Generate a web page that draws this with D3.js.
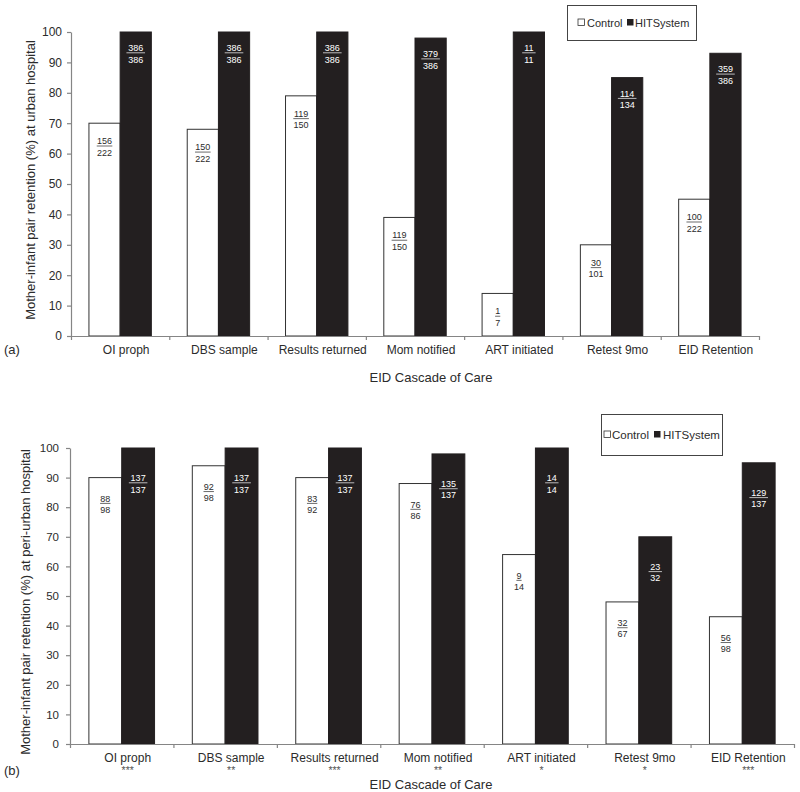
<!DOCTYPE html>
<html><head><meta charset="utf-8">
<script src="https://cdn.jsdelivr.net/npm/d3@7"></script>
<style>
body{margin:0;background:#fff}
svg{display:block}
text{font-family:"Liberation Sans",Arial,Helvetica,sans-serif}
</style>
</head><body>
<svg id="chart" width="800" height="792"></svg>
<script>
// ---------- data ----------
const categories = ["OI proph","DBS sample","Results returned","Mom notified","ART initiated","Retest 9mo","EID Retention"];
const seriesNames = ["Control","HITSystem"];
const yTicks = [0,10,20,30,40,50,60,70,80,90,100];

const urbanControl = [70,68,79,39,14,30,45];
const urbanHIT     = [100,100,100,98,100,85,93];
const urbanControlNum = [156,150,119,119,1,30,100];
const urbanControlDen = [222,222,150,150,7,101,222];
const urbanHITNum  = [386,386,386,379,11,114,359];
const urbanHITDen  = [386,386,386,386,11,134,386];

const periControl  = [90,94,90,88,64,48,43];
const periHIT      = [100,100,100,98,100,70,95];
const periControlNum = [88,92,83,76,9,32,56];
const periControlDen = [98,98,92,86,14,67,98];
const periHITNum   = [137,137,137,135,14,23,129];
const periHITDen   = [137,137,137,137,14,32,137];
const significance = ["***","**","***","**","*","*","***"];

// ---------- drawing ----------
const svg = d3.select("#chart");
const AXIS = "#858585", DARK = "#231f20", TXT = "#2b2b2b";

const panels = [
  { tag:"(a)", tagY:354, xr:[71,759], yr:[336,32], tickPad:5, tickFont:12,
    ytitle:"Mother-infant pair retention (%) at urban hospital", ytX:30, ytY:180,
    xtitleY:382, control:urbanControl, hit:urbanHIT,
    cN:urbanControlNum, cD:urbanControlDen, hN:urbanHITNum, hD:urbanHITDen,
    cOff:21, hOff:19, stars:null,
    legend:{x:567,y:5,w:129,h:35,font:11,sq1:578,t1:587,sq2:627,t2:635} },
  { tag:"(b)", tagY:775, xr:[70,794], yr:[744,448], tickPad:7, tickFont:11.5,
    ytitle:"Mother-infant pair retention (%) at peri-urban hospital", ytX:25, ytY:602,
    xtitleY:789, control:periControl, hit:periHIT,
    cN:periControlNum, cD:periControlDen, hN:periHITNum, hD:periHITDen,
    cOff:24, hOff:33, stars:significance,
    legend:{x:601,y:414,w:121,h:41,font:11.5,sq1:604,t1:612,sq2:654,t2:663} }
];

panels.forEach(p => {
  const g = svg.append("g");
  const x = d3.scaleBand().domain(categories).range(p.xr).padding(0);
  const xi = d3.scaleBand().domain(seriesNames).range([0, x.bandwidth()]).paddingInner(0).paddingOuter(0.575);
  const y = d3.scaleLinear().domain([0,100]).range(p.yr);
  const xb = d3.scaleLinear().domain([0, categories.length]).range(p.xr);

  const rows = categories.map((c,i) => ({c, i, vals:[
    {s:"Control", v:p.control[i], n:p.cN[i], d:p.cD[i]},
    {s:"HITSystem", v:p.hit[i], n:p.hN[i], d:p.hD[i]}]}));

  const grp = g.selectAll("g.cat").data(rows).join("g")
    .attr("transform", d => `translate(${x(d.c)},0)`);

  grp.selectAll("rect").data(d => d.vals).join("rect")
    .attr("x", d => xi(d.s))
    .attr("y", d => y(d.v))
    .attr("width", xi.bandwidth())
    .attr("height", d => y(0) - y(d.v))
    .attr("fill", d => d.s === "Control" ? "#fff" : DARK)
    .attr("stroke", d => d.s === "Control" ? "#333" : DARK)
    .attr("stroke-width", 1);

  // fraction labels
  const halfW = d => {
    const len = d.s==="Control" ? String(d.n).length : Math.max(String(d.n).length, String(d.d).length);
    return len*2.6 + (d.s==="Control" ? 0 : 1.5);
  };
  const lab = grp.selectAll("g.frac").data(d => d.vals).join("g")
    .attr("transform", d => `translate(${xi(d.s) + xi.bandwidth()/2},${y(d.v) + (d.s==="Control"?p.cOff:p.hOff)})`);
  lab.append("text").attr("text-anchor","middle").attr("font-size",9)
    .attr("fill", d => d.s==="Control" ? TXT : "#fff").text(d => d.n);
  lab.append("line")
    .attr("x1", d => -halfW(d)).attr("x2", d => halfW(d))
    .attr("y1", 1.8).attr("y2", 1.8)
    .attr("stroke", d => d.s==="Control" ? TXT : "#fff").attr("stroke-width", 0.7);
  lab.append("text").attr("text-anchor","middle").attr("font-size",9).attr("y",11.5)
    .attr("fill", d => d.s==="Control" ? TXT : "#fff").text(d => d.d);

  // y axis
  const ya = g.append("g").attr("transform", `translate(${p.xr[0]},0)`)
    .call(d3.axisLeft(y).tickValues(yTicks).tickSize(4).tickSizeOuter(0).tickPadding(p.tickPad));
  ya.select(".domain").attr("stroke", AXIS).attr("stroke-width",1.2);
  ya.selectAll(".tick line").attr("stroke", AXIS).attr("stroke-width",1.2);
  ya.selectAll(".tick text").attr("font-size", p.tickFont).attr("fill", TXT)
    .attr("font-family",'"Liberation Sans",Arial,sans-serif');

  // x axis line + boundary ticks
  const xa = g.append("g").attr("transform", `translate(0,${p.yr[0]})`)
    .call(d3.axisBottom(xb).tickValues(d3.range(categories.length+1)).tickFormat("").tickSize(4).tickSizeOuter(0));
  xa.select(".domain").attr("stroke", AXIS).attr("stroke-width",1.2);
  xa.selectAll(".tick line").attr("stroke", AXIS).attr("stroke-width",1.2);

  // category labels
  const xl = g.append("g").attr("transform", `translate(0,${p.yr[0]})`)
    .call(d3.axisBottom(x).tickSize(0).tickPadding(9.5));
  xl.select(".domain").remove();
  xl.selectAll(".tick text").attr("font-size",12).attr("fill",TXT).attr("dx",6)
    .attr("font-family",'"Liberation Sans",Arial,sans-serif');

  if (p.stars) {
    g.selectAll("text.star").data(p.stars).join("text")
      .attr("x", (d,i) => x(categories[i]) + x.bandwidth()/2 + 6)
      .attr("y", p.yr[0] + 29.5)
      .attr("text-anchor","middle").attr("font-size",10.5).attr("fill","#555")
      .text(d => d);
  }

  // titles
  g.append("text").attr("x", 431).attr("y", p.xtitleY).attr("text-anchor","middle")
    .attr("font-size",13).attr("fill",TXT).text("EID Cascade of Care");
  g.append("text").attr("transform", `translate(${p.ytX + 4.5},${p.ytY}) rotate(-90)`)
    .attr("text-anchor","middle").attr("font-size",13).attr("fill",TXT).text(p.ytitle);
  g.append("text").attr("x",4).attr("y",p.tagY).attr("font-size",13).attr("fill",TXT).text(p.tag);

  // legend
  const L = p.legend, cy = L.y + L.h/2;
  g.append("rect").attr("x",L.x+0.5).attr("y",L.y+0.5).attr("width",L.w).attr("height",L.h)
    .attr("fill","#fff").attr("stroke","#444").attr("stroke-width",1);
  g.append("rect").attr("x",L.sq1).attr("y",cy-3.5).attr("width",6.5).attr("height",6.5)
    .attr("fill","#fff").attr("stroke","#333").attr("stroke-width",0.8);
  g.append("text").attr("x",L.t1).attr("y",cy+4).attr("font-size",L.font).attr("fill",TXT).text(seriesNames[0]);
  g.append("rect").attr("x",L.sq2).attr("y",cy-3.5).attr("width",6.5).attr("height",6.5)
    .attr("fill",DARK);
  g.append("text").attr("x",L.t2).attr("y",cy+4).attr("font-size",L.font).attr("fill",TXT).text(seriesNames[1]);
});
</script>
</body></html>
